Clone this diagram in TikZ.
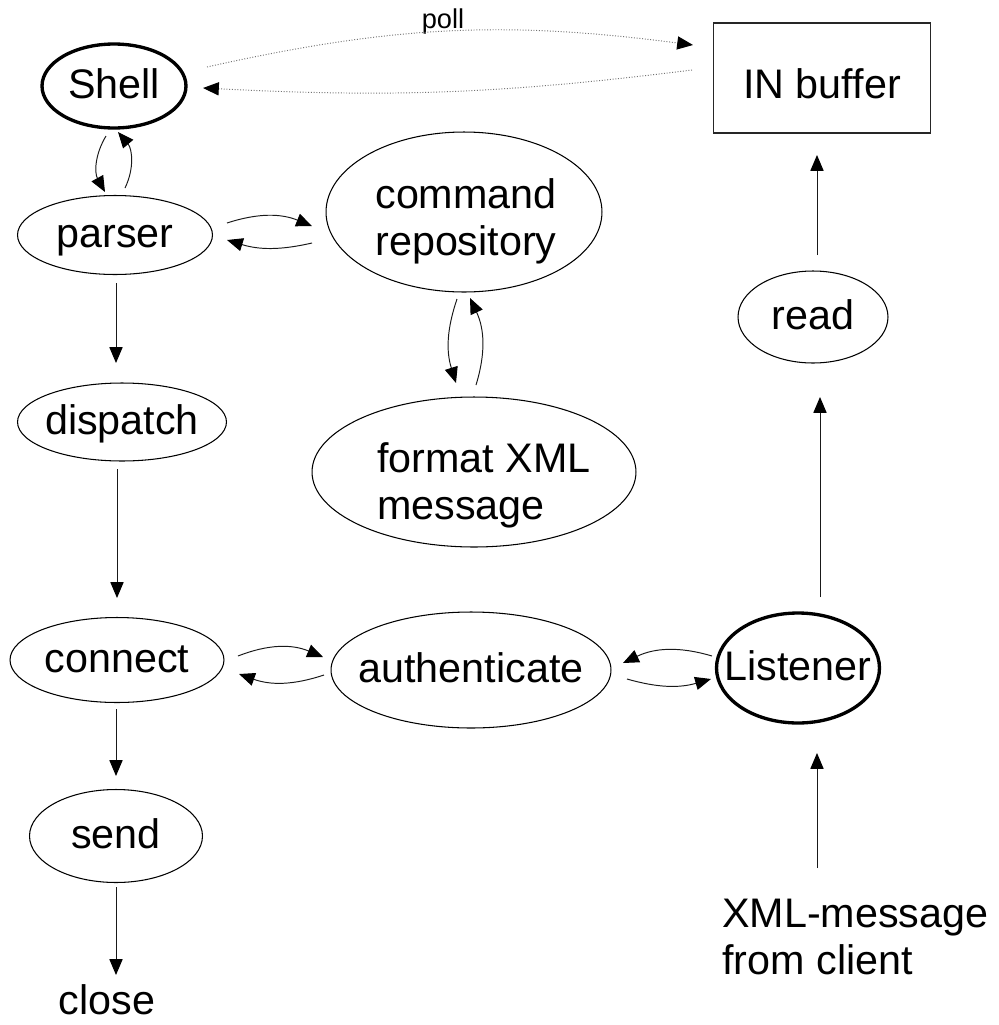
\documentclass[tikz,border=0pt]{standalone}
\usepackage{fontspec}
\setmainfont{Liberation Sans}
\usetikzlibrary{shapes.geometric,arrows.meta}
% zero-width box so the ellipse keeps its given size
\newcommand\zw[1]{\makebox[0pt]{#1}}
\begin{document}
\begin{tikzpicture}[x=0.02cm,y=-0.02cm,
  txt/.style={font=\fontsize{23.5}{26.6}\selectfont, inner sep=0pt,
              text height=14.6pt, text depth=0pt},
  lines/.style={font=\fontsize{23.5}{26.6}\selectfont, inner sep=0pt},
  oval/.style={txt, ellipse, draw, line width=0.6pt},
  boldoval/.style={oval, line width=1.9pt},
  box/.style={txt, rectangle, draw, line width=0.7pt, black!85, text=black,
              text height=23.5pt},
  arr/.style={-{Triangle[length=9pt,width=7.5pt,black]}, line width=0.55pt, black!90},
  pollarr/.style={arr, densely dotted, black!55},
  small/.style={font=\fontsize{15.5}{18}\selectfont, inner sep=0pt,
                text height=9.6pt, text depth=0pt}]
\useasboundingbox (0,0) rectangle (999,1025);

% nodes
\node[boldoval, minimum width=28.8mm, minimum height=16.8mm] (shell) at (114,86) {\zw{Shell}};
\node[box, minimum width=43.4mm, minimum height=22mm] (inbuf) at (822,78) {IN buffer};
\node[small] (poll) at (443,20) {poll};
\node[oval, minimum width=39mm, minimum height=15.8mm] (parser) at (115,235) {\zw{parser}};
\node[oval, minimum width=55.2mm, minimum height=32mm] (cmd) at (464,212) {};
\node[lines, align=center] (cmdtext) at (466,221) {command\\repository};
\node[oval, minimum width=64.8mm, minimum height=30mm] (fmt) at (474,472) {};
\node[lines, align=left, anchor=west] (fmttext) at (377,485) {format XML\\message};
\node[oval, minimum width=41.8mm, minimum height=15.6mm] (dispatch) at (122,422) {\zw{dispatch}};
\node[oval, minimum width=42.8mm, minimum height=17mm] (connect) at (117,660) {\zw{connect}};
\node[oval, minimum width=56mm, minimum height=23.2mm] (auth) at (471,670) {\zw{authenticate}};
\node[boldoval, minimum width=32.6mm, minimum height=22mm] (listener) at (798,668) {\zw{Listener}};
\node[oval, minimum width=30mm, minimum height=18.4mm] (read) at (813,317) {\zw{read}};
\node[oval, minimum width=34.6mm, minimum height=18.6mm] (send) at (116,836) {\zw{send}};
\node[txt] (close) at (107,1002) {close};
\node[lines, align=left, anchor=west] (xml) at (722,937) {XML-message\\from client};

% polling between the shell and the input buffer
\draw[pollarr] ([shift={(93,-19)}]shell.center) to[bend left=10] ([shift={(-129,-33)}]inbuf.center);
\draw[pollarr] ([shift={(-130,-8)}]inbuf.center) to[bend left=5] ([shift={(89,2)}]shell.center);

% shell <-> parser
\draw[arr] ([shift={(-8,50)}]shell.center) to[bend right=30] ([shift={(-10,-43)}]parser.center);
\draw[arr] ([shift={(10,-47)}]parser.center) to[bend right=33] ([shift={(4,46)}]shell.center);

% parser <-> command repository
\draw[arr] ([shift={(112,-12)}]parser.center) to[bend left=20] ([shift={(-152,14)}]cmd.center);
\draw[arr] ([shift={(-152,31)}]cmd.center) to[bend left=15] ([shift={(112,5)}]parser.center);

% command repository <-> format XML message
\draw[arr] ([shift={(-7,87)}]cmd.center) to[bend right=18] ([shift={(-18,-89)}]fmt.center);
\draw[arr] ([shift={(2,-87)}]fmt.center) to[bend right=21] ([shift={(6,86)}]cmd.center);

% connect <-> authenticate <-> listener
\draw[arr] ([shift={(121,-4)}]connect.center) to[bend left=22] ([shift={(-148,-13)}]auth.center);
\draw[arr] ([shift={(-147,5)}]auth.center) to[bend left=19] ([shift={(122,14)}]connect.center);
\draw[arr] ([shift={(-86,-12)}]listener.center) to[bend right=21] ([shift={(152,-7)}]auth.center);
\draw[arr] ([shift={(156,9)}]auth.center) to[bend right=16] ([shift={(-87,11)}]listener.center);

% left column
\draw[arr] ([shift={(1,48)}]parser.center) -- ([shift={(-6,-59)}]dispatch.center);
\draw[arr] ([shift={(-5,47)}]dispatch.center) -- ([shift={(0,-62)}]connect.center);
\draw[arr] ([shift={(-1,49)}]connect.center) -- ([shift={(0,-60)}]send.center);
\draw[arr] ([shift={(0,51)}]send.center) -- ([shift={(9,-27)}]close.center);

% right column
\draw[arr] ([shift={(4,-62)}]read.center) -- ([shift={(-5,77)}]inbuf.center);
\draw[arr] ([shift={(22,-71)}]listener.center) -- ([shift={(7,80)}]read.center);
\draw[arr] ([shift={(95,-69)}]xml.west) -- ([shift={(19,85)}]listener.center);
\end{tikzpicture}
\end{document}
